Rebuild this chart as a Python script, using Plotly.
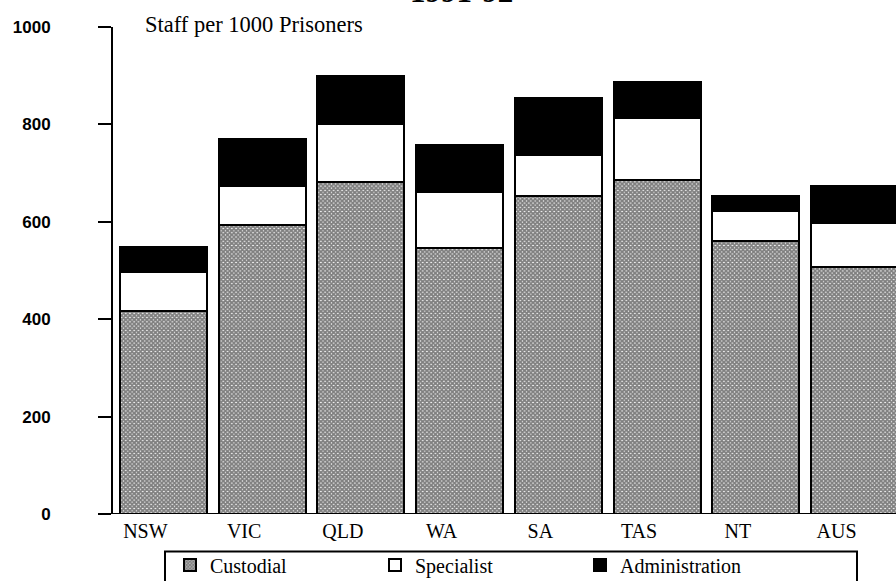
import plotly.graph_objects as go

categories = ["NSW", "VIC", "QLD", "WA", "SA", "TAS", "NT", "AUS"]
custodial = [416, 594, 681, 547, 652, 685, 561, 508]
specialist = [81, 80, 120, 115, 86, 128, 62, 90]
administration = [52, 96, 98, 95, 116, 74, 30, 76]
y_ticks = [0, 200, 400, 600, 800, 1000]

W, H = 896, 581
L, R, T, B = 113, 0, 27, 66.5
pw = W - L - R
ph = H - T - B
ybot = H - B

serif = "Liberation Serif, Times New Roman, serif"
sans = "Liberation Sans, Arial, sans-serif"

line = dict(color="black", width=2)
fig = go.Figure()
fig.add_trace(go.Bar(
    x=categories, y=custodial, name="Custodial", width=0.88,
    marker=dict(color="white", line=line,
                pattern=dict(shape="x", size=3, solidity=0.85,
                             fgcolor="black", bgcolor="white")),
))
fig.add_trace(go.Bar(
    x=categories, y=specialist, name="Specialist", width=0.88,
    marker=dict(color="white", line=line),
))
fig.add_trace(go.Bar(
    x=categories, y=administration, name="Administration", width=0.88,
    marker=dict(color="black", line=line),
))

fig.update_layout(
    width=W, height=H,
    margin=dict(l=L, r=R, t=T, b=B, pad=0, autoexpand=False),
    barmode="stack",
    plot_bgcolor="white", paper_bgcolor="white",
    showlegend=True,
    legend=dict(orientation="h", x=(170 - L) / pw, xanchor="left",
                y=-(546 - ybot) / ph, yanchor="top",
                entrywidth=160, entrywidthmode="pixels",
                font=dict(family=serif, size=20, color="black"),
                bgcolor="rgba(0,0,0,0)", borderwidth=0,
                traceorder="normal"),
    font=dict(family=serif, color="black"),
    xaxis=dict(range=[-0.51, 7.42], showline=False, ticks="",
               showgrid=False, zeroline=False, automargin=False,
               tickfont=dict(family=serif, size=20, color="black"),
               ticklabelshift=-18, ticklabelstandoff=3),
    yaxis=dict(range=[0, 1000], tickvals=y_ticks, ticks="outside",
               ticklen=13, tickwidth=2, tickcolor="black",
               showline=True, linewidth=2, linecolor="black",
               showgrid=False, zeroline=False, automargin=False,
               ticklabelstandoff=44,
               tickfont=dict(family=sans, size=17, color="black",
                             weight="bold")),
    yaxis2=dict(range=[0, 1000], tickvals=y_ticks, ticks="inside",
                ticklen=14, tickwidth=2, tickcolor="black",
                overlaying="y", side="left", showline=False,
                showgrid=False, zeroline=False, showticklabels=False),
)

# baseline at zero
fig.add_shape(type="line", xref="paper", yref="y", x0=0, x1=1, y0=0, y1=0,
              line=dict(color="black", width=2))
# legend box
fig.add_shape(type="rect", xref="paper", yref="paper",
              x0=(165 - L) / pw, x1=(857 - L) / pw,
              y0=-(552 - ybot) / ph, y1=-(620 - ybot) / ph,
              line=dict(color="black", width=2), fillcolor="rgba(0,0,0,0)")

fig.add_annotation(text="Staff per 1000 Prisoners", xref="paper", yref="paper",
                   x=(143 - L) / pw, y=1, xanchor="left", yanchor="middle",
                   yshift=3, showarrow=False,
                   font=dict(family=serif, size=22.5, color="black"))
fig.add_annotation(text="<b>1991-92</b>", xref="paper", yref="paper",
                   x=(461.5 - L) / pw, y=1, xanchor="center", yanchor="bottom",
                   yshift=16, showarrow=False,
                   font=dict(family=serif, size=31, color="black"))

fig.write_html("out.html",
               config={"displayModeBar": False},
               post_script="document.body.style.margin='0';"
                           "document.body.style.overflow='hidden';")
